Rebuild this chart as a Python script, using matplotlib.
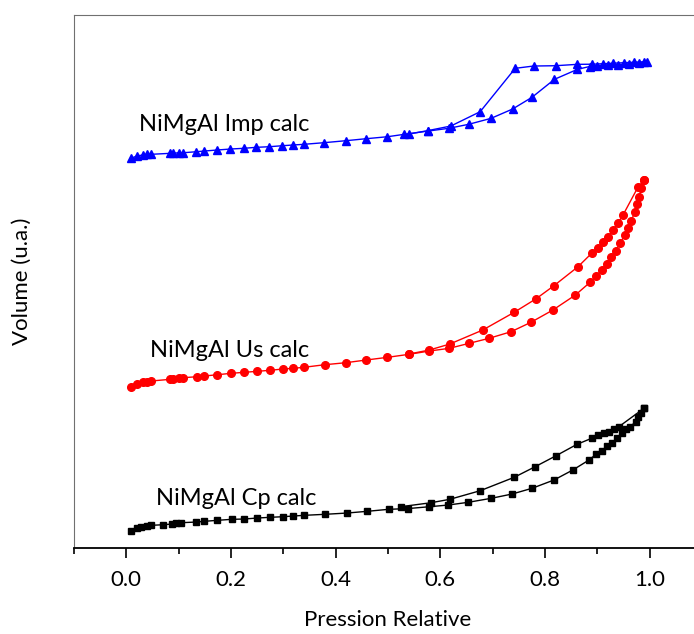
import matplotlib
matplotlib.use('Agg')
import matplotlib.pyplot as plt
from matplotlib.ticker import MultipleLocator

plt.rcParams['font.family'] = ['Lato', 'DejaVu Sans']

# NiMgAl Imp calc (blue triangles)
imp_ads_p = [0.009, 0.020, 0.031, 0.039, 0.047, 0.084, 0.090, 0.100, 0.109, 0.134,
             0.149, 0.173, 0.199, 0.224, 0.248, 0.273, 0.298, 0.318, 0.339, 0.377,
             0.419, 0.458, 0.499, 0.531, 0.577, 0.616, 0.654, 0.697, 0.738, 0.775,
             0.818, 0.862, 0.885, 0.900, 0.920, 0.940, 0.960, 0.980, 0.995]
imp_ads_v = [389.7, 392.0, 393.0, 393.7, 393.7, 394.7, 394.7, 395.3, 395.3, 396.3,
             397.0, 398.0, 399.0, 399.7, 400.7, 401.3, 402.3, 403.0, 403.7, 405.3,
             407.3, 409.3, 411.3, 413.7, 417.0, 419.7, 423.7, 429.7, 439.0, 450.7,
             468.7, 478.7, 481.5, 482.5, 483.0, 483.5, 484.0, 485.0, 486.3]
imp_des_p = [0.990, 0.970, 0.950, 0.930, 0.910, 0.890, 0.862, 0.820, 0.778, 0.743,
             0.676, 0.620, 0.577, 0.540]
imp_des_v = [486.3, 485.8, 485.3, 484.8, 484.3, 483.8, 483.7, 482.3, 482.0, 479.7,
             436.3, 422.0, 417.5, 414.0]

# NiMgAl Us calc (red circles)
us_ads_p = [0.009, 0.020, 0.031, 0.039, 0.047, 0.084, 0.090, 0.100, 0.108, 0.135,
            0.149, 0.174, 0.200, 0.225, 0.250, 0.274, 0.299, 0.319, 0.339, 0.379,
            0.419, 0.458, 0.499, 0.540, 0.579, 0.617, 0.655, 0.693, 0.735, 0.773,
            0.815, 0.858, 0.886, 0.898, 0.908, 0.918, 0.926, 0.935, 0.944, 0.952,
            0.958, 0.965, 0.971, 0.976, 0.980, 0.984, 0.990]
us_ads_v = [160.7, 164.0, 165.7, 166.3, 167.0, 168.7, 169.0, 169.7, 170.3, 171.3,
            172.0, 173.3, 174.7, 175.7, 176.7, 177.7, 179.0, 179.7, 180.7, 183.3,
            185.3, 188.0, 190.7, 193.7, 197.0, 199.7, 204.7, 209.7, 216.3, 225.7,
            238.0, 253.0, 265.7, 272.3, 278.0, 284.0, 290.7, 297.3, 305.3, 312.7,
            319.7, 327.3, 335.7, 343.7, 351.3, 359.7, 368.0]
us_des_p = [0.990, 0.978, 0.949, 0.939, 0.930, 0.921, 0.911, 0.901, 0.889, 0.863,
            0.817, 0.783, 0.741, 0.681, 0.618, 0.579, 0.540]
us_des_v = [368.0, 361.3, 333.0, 324.7, 318.0, 311.3, 305.7, 299.7, 294.7, 281.3,
            262.3, 249.3, 235.7, 218.0, 204.0, 198.0, 194.0]

# NiMgAl Cp calc (black squares)
cp_ads_p = [0.009, 0.020, 0.028, 0.039, 0.047, 0.071, 0.087, 0.094, 0.104, 0.134,
            0.149, 0.174, 0.201, 0.225, 0.250, 0.274, 0.299, 0.319, 0.340, 0.379,
            0.422, 0.460, 0.501, 0.539, 0.579, 0.615, 0.653, 0.697, 0.737, 0.775,
            0.817, 0.853, 0.884, 0.898, 0.909, 0.918, 0.928, 0.937, 0.947, 0.955,
            0.963, 0.973, 0.978, 0.984, 0.989]
cp_ads_v = [17.3, 19.7, 20.7, 22.0, 22.7, 23.3, 24.0, 24.7, 25.3, 26.0,
            26.7, 27.7, 28.7, 29.0, 30.0, 30.7, 31.3, 32.0, 32.7, 33.7,
            35.0, 36.7, 38.7, 39.5, 41.3, 43.0, 45.7, 49.7, 54.0, 59.7,
            68.0, 78.0, 88.0, 94.0, 97.3, 102.0, 105.3, 109.7, 115.3, 118.7,
            121.3, 126.3, 131.3, 134.7, 139.7]
cp_des_p = [0.989, 0.941, 0.931, 0.922, 0.912, 0.901, 0.889, 0.861, 0.820, 0.781,
            0.741, 0.676, 0.618, 0.582, 0.524]
cp_des_v = [139.7, 121.3, 118.7, 116.3, 114.7, 113.0, 109.7, 103.7, 92.0, 81.3,
            70.7, 57.3, 48.7, 45.3, 41.3]

fig = plt.figure(figsize=(6.94, 6.34), dpi=100)
ax = fig.add_axes([0.1066, 0.1356, 0.905, 0.8407])

ax.plot(imp_ads_p, imp_ads_v, color='#0000FF', marker='^', ms=6, lw=1)
ax.plot(imp_des_p, imp_des_v, color='#0000FF', marker='^', ms=6, lw=1)
ax.plot(us_ads_p, us_ads_v, color='#FF0000', marker='o', ms=5.5, lw=1)
ax.plot(us_des_p, us_des_v, color='#FF0000', marker='o', ms=5.5, lw=1)
ax.plot(cp_ads_p, cp_ads_v, color='black', marker='s', ms=4.5, lw=1)
ax.plot(cp_des_p, cp_des_v, color='black', marker='s', ms=4.5, lw=1)

ax.text(0.025, 424, 'NiMgAl Imp calc', fontsize=17, va='center')
ax.text(0.046, 198, 'NiMgAl Us calc', fontsize=17, va='center')
ax.text(0.057, 50, 'NiMgAl Cp calc', fontsize=17, va='center')

ax.set_xlim(-0.1, 1.1)
ax.set_ylim(0, 533)
ax.xaxis.set_minor_locator(MultipleLocator(0.1))
ax.set_xticks([0.0, 0.2, 0.4, 0.6, 0.8, 1.0])
ax.set_xticklabels(['0.0', '0.2', '0.4', '0.6', '0.8', '1.0'])
ax.tick_params(axis='x', which='major', direction='out', length=7, width=1.2, labelsize=16, pad=9)
ax.tick_params(axis='x', which='minor', direction='out', length=4, width=1.2)
ax.set_yticks([])

ax.spines['bottom'].set_linewidth(1.3)
ax.spines['left'].set_color('#707070')
ax.spines['top'].set_color('#707070')
ax.spines['right'].set_visible(False)

ax.set_xlabel('Pression Relative', fontsize=16, labelpad=14)
ax.set_ylabel('Volume (u.a.)', fontsize=16, labelpad=30)

plt.savefig('out.png', dpi=100)
